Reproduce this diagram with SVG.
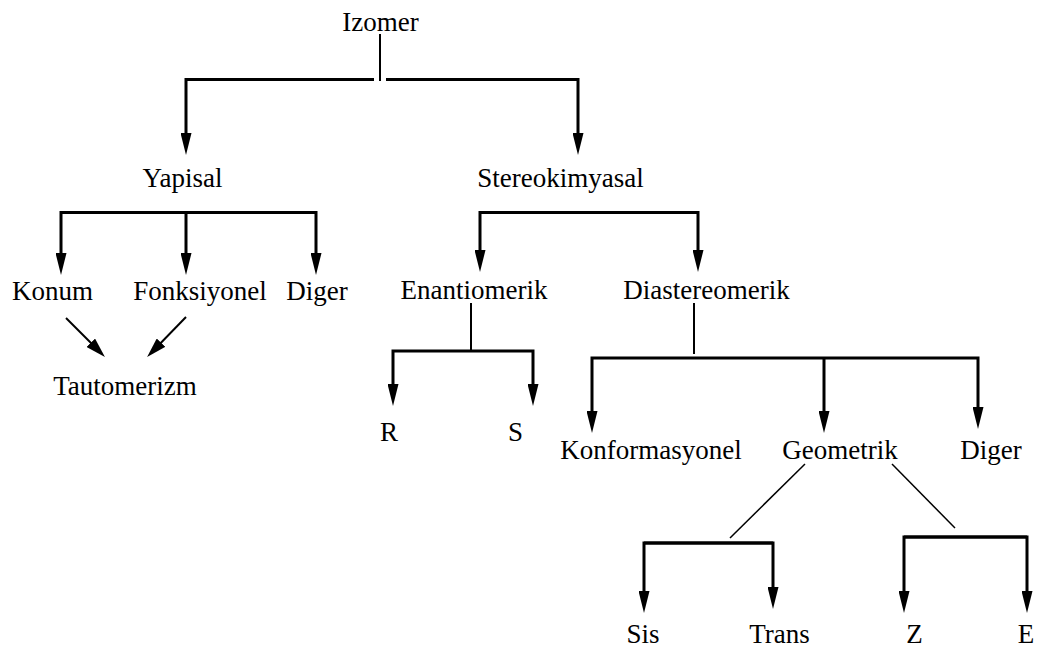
<svg xmlns="http://www.w3.org/2000/svg" width="1037" height="648" viewBox="0 0 1037 648">
  <defs>
    <marker id="ah" viewBox="0 0 22 11" markerWidth="22" markerHeight="11" markerUnits="userSpaceOnUse" refX="14" refY="5.5" orient="auto">
      <path d="M0,0 L22,5.5 L0,11 z" fill="#000"/>
    </marker>
    <marker id="ah2" viewBox="0 0 20 12" markerWidth="20" markerHeight="12" markerUnits="userSpaceOnUse" refX="13" refY="6" orient="auto">
      <path d="M0,0 L20,6 L0,12 z" fill="#000"/>
    </marker>
  </defs>
  <rect width="1037" height="648" fill="#fff"/>

  <g id="connectors" stroke="#000" fill="none">
    <g stroke-width="3" marker-end="url(#ah)">
      <path d="M374,79.5 H186 V147"/>
      <path d="M386,79.5 H578 V147"/>
      <path d="M316,212.5 H61 V267"/>
      <path d="M61,212.5 H316 V267"/>
      <path d="M186,212.5 V267"/>
      <path d="M480,212.5 H698 V264"/>
      <path d="M698,212.5 H480 V264"/>
      <path d="M471,351 H393 V398"/>
      <path d="M471,351 H533 V398"/>
      <path d="M694,358 H592 V425"/>
      <path d="M694,358 H978 V421"/>
      <path d="M824,358 V425"/>
      <path d="M773,543 H644 V605"/>
      <path d="M644,543 H773 V601"/>
      <path d="M1027,537 H904 V605"/>
      <path d="M904,537 H1027 V605"/>
    </g>
    <g stroke-width="2">
      <line x1="380" y1="34" x2="380" y2="81"/>
      <line x1="471" y1="303" x2="471" y2="351"/>
      <line x1="694" y1="303" x2="694" y2="354"/>
    </g>
    <g stroke-width="2" marker-end="url(#ah2)">
      <line x1="66" y1="318" x2="100" y2="352"/>
      <line x1="186" y1="317" x2="152" y2="352"/>
    </g>
    <g stroke-width="1.5">
      <line x1="805" y1="464" x2="730" y2="538"/>
      <line x1="892" y1="464" x2="955" y2="528"/>
    </g>
  </g>

  <g id="n-izomer"><text x="380.5" y="31" font-family="Liberation Serif" font-size="27" text-anchor="middle">Izomer</text></g>
  <g id="n-yapisal"><text x="182.5" y="187" font-family="Liberation Serif" font-size="27" text-anchor="middle">Yapisal</text></g>
  <g id="n-stereokimyasal"><text x="560.5" y="187" font-family="Liberation Serif" font-size="27" text-anchor="middle">Stereokimyasal</text></g>
  <g id="n-konum"><text x="52.5" y="300" font-family="Liberation Serif" font-size="27" text-anchor="middle">Konum</text></g>
  <g id="n-fonksiyonel"><text x="200" y="300" font-family="Liberation Serif" font-size="27" text-anchor="middle">Fonksiyonel</text></g>
  <g id="n-diger1"><text x="317" y="300" font-family="Liberation Serif" font-size="27" text-anchor="middle">Diger</text></g>
  <g id="n-tautomerizm"><text x="125" y="395" font-family="Liberation Serif" font-size="27" text-anchor="middle">Tautomerizm</text></g>
  <g id="n-enantiomerik"><text x="474" y="299" font-family="Liberation Serif" font-size="27" text-anchor="middle">Enantiomerik</text></g>
  <g id="n-diastereomerik"><text x="706.5" y="299" font-family="Liberation Serif" font-size="27" text-anchor="middle">Diastereomerik</text></g>
  <g id="n-r"><text x="389" y="441" font-family="Liberation Serif" font-size="27" text-anchor="middle">R</text></g>
  <g id="n-s"><text x="515.5" y="441" font-family="Liberation Serif" font-size="27" text-anchor="middle">S</text></g>
  <g id="n-konformasyonel"><text x="651" y="459" font-family="Liberation Serif" font-size="27" text-anchor="middle">Konformasyonel</text></g>
  <g id="n-geometrik"><text x="840" y="459" font-family="Liberation Serif" font-size="27" text-anchor="middle">Geometrik</text></g>
  <g id="n-diger2"><text x="991" y="459" font-family="Liberation Serif" font-size="27" text-anchor="middle">Diger</text></g>
  <g id="n-sis"><text x="643" y="643" font-family="Liberation Serif" font-size="27" text-anchor="middle">Sis</text></g>
  <g id="n-trans"><text x="779.5" y="643" font-family="Liberation Serif" font-size="27" text-anchor="middle">Trans</text></g>
  <g id="n-z"><text x="914.5" y="643" font-family="Liberation Serif" font-size="27" text-anchor="middle">Z</text></g>
  <g id="n-e"><text x="1026" y="643" font-family="Liberation Serif" font-size="27" text-anchor="middle">E</text></g>
</svg>
